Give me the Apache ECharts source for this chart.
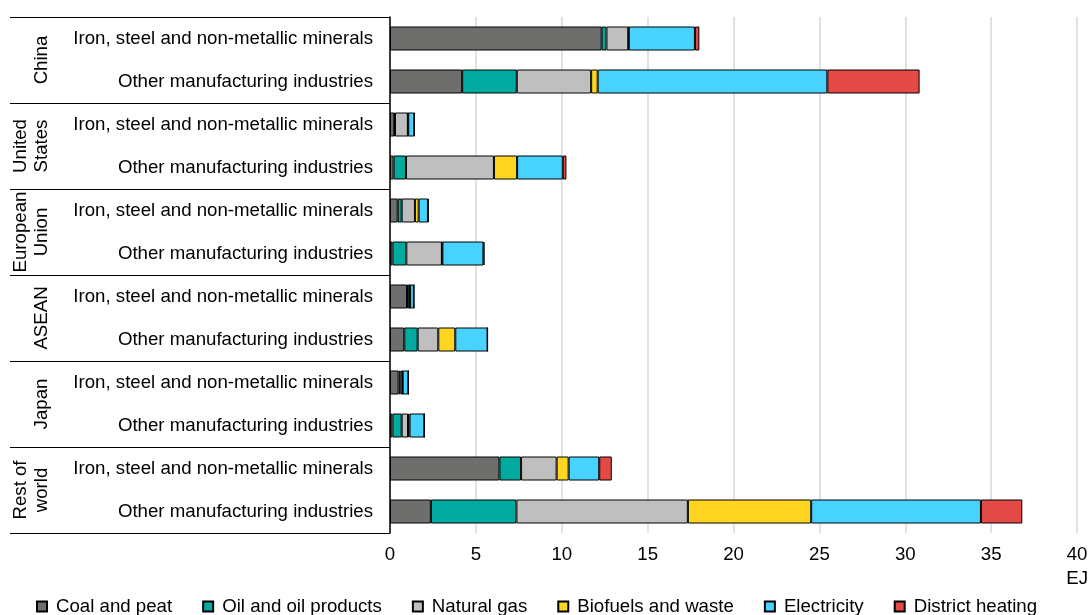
<!DOCTYPE html>
<html><head><meta charset="utf-8">
<script src="https://cdn.jsdelivr.net/npm/echarts@6/dist/echarts.min.js"></script>
<style>html,body{margin:0;padding:0;background:#fff}#c{width:1091px;height:615px}</style>
</head><body><div id="c"></div>
<script>
const groups = ['China', 'United\nStates', 'European\nUnion', 'ASEAN', 'Japan', 'Rest of\nworld'];
const sectors = ['Iron, steel and non-metallic minerals', 'Other manufacturing industries'];
const seriesNames = ['Coal and peat', 'Oil and oil products', 'Natural gas', 'Biofuels and waste', 'Electricity', 'District heating'];
const coal = [12.32, 4.20, 0.25, 0.21, 0.45, 0.14, 0.99, 0.83, 0.50, 0.14, 6.37, 2.38];
const oil  = [0.28, 3.18, 0.04, 0.72, 0.23, 0.81, 0.13, 0.78, 0.10, 0.54, 1.26, 4.98];
const gas  = [1.27, 4.33, 0.75, 5.12, 0.77, 2.07, 0.03, 1.20, 0.12, 0.37, 2.07, 9.98];
const bio  = [0.03, 0.38, 0.02, 1.35, 0.22, 0.03, 0.02, 0.99, 0.02, 0.09, 0.70, 7.18];
const elec = [3.85, 13.37, 0.35, 2.66, 0.54, 2.39, 0.22, 1.88, 0.33, 0.86, 1.78, 9.88];
const heat = [0.26, 5.37, 0.03, 0.21, 0.04, 0.06, 0.01, 0.00, 0.01, 0.00, 0.73, 2.41];
const xMin = 0, xMax = 40, xStep = 5;
const xUnit = 'EJ';
const colors = ['#6e6f6d', '#00aa9e', '#bfbfbf', '#fed521', '#48d3ff', '#e34a45'];

const rowKeys = [];
groups.forEach((g, gi) => sectors.forEach((s, si) => rowKeys.push(gi + '|' + s)));
const values = [coal, oil, gas, bio, elec, heat];
const FONT = '"Liberation Sans", Arial, sans-serif';
const FS = 18.67;

const chart = echarts.init(document.getElementById('c'));
chart.setOption({
  animation: false,
  textStyle: { fontFamily: FONT },
  grid: { left: 390, right: 11, top: 17, bottom: 82, containLabel: false },
  xAxis: {
    type: 'value', min: xMin, max: xMax, interval: xStep,
    axisLine: { show: false }, axisTick: { show: false },
    splitLine: { show: true, lineStyle: { color: '#d9d9d9', width: 1.5 } },
    axisLabel: {
      fontSize: FS, color: '#000', margin: 10, lineHeight: 24, fontFamily: FONT,
      formatter: v => v === xMax ? v + '\n' + xUnit : String(v)
    }
  },
  yAxis: [
    {
      type: 'category', data: rowKeys, inverse: true,
      axisLine: { show: true, lineStyle: { color: '#000', width: 1.5 } },
      axisTick: { show: false },
      axisLabel: { fontSize: FS, color: '#000', margin: 17, fontFamily: FONT,
        formatter: v => v.split('|')[1] }
    },
    {
      type: 'category', data: groups, inverse: true, position: 'left', offset: 0,
      axisLine: { show: false },
      axisTick: { show: true, length: 380, lineStyle: { color: '#000', width: 1.2 } },
      axisLabel: { fontSize: FS, color: '#000', rotate: 90, margin: 338, lineHeight: 21,
        fontFamily: FONT, interval: 0 }
    }
  ],
  legend: {
    data: seriesNames, top: 592, left: 31, icon: 'rect', itemWidth: 10, itemHeight: 10,
    itemGap: 30, textStyle: { fontSize: FS, color: '#000', fontFamily: FONT, padding: [0, 0, 0, 4] }
  },
  series: seriesNames.map((n, i) => ({
    name: n, type: 'bar', stack: 'total', yAxisIndex: 0,
    barWidth: 24, data: values[i],
    itemStyle: { color: colors[i], borderColor: '#000', borderWidth: 1 }
  }))
});
</script></body></html>
